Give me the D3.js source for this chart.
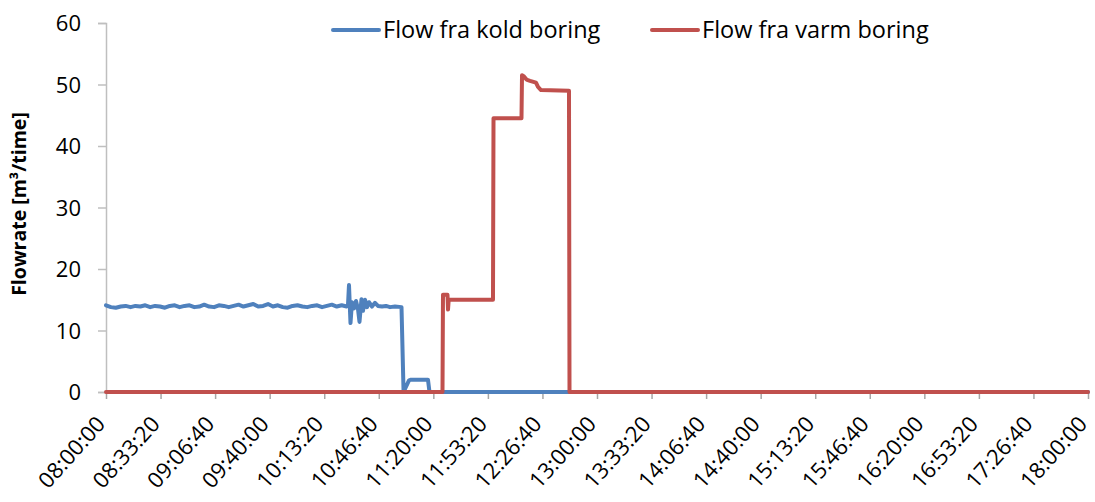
<!DOCTYPE html>
<html>
<head>
<meta charset="utf-8">
<script src="https://cdn.jsdelivr.net/npm/d3@7"></script>
<style>
  body { margin: 0; background: #fff; }
  svg text { font-family: "Open Sans", "Noto Sans", sans-serif; fill: #000; }
</style>
</head>
<body>
<svg id="chart" width="1095" height="502"></svg>
<script>
// series names
const seriesNames = ["Flow fra kold boring", "Flow fra varm boring"];

// cold well flow [time, m3/time]
const koldTimes = [
  "08:00:00","08:03:00","08:06:00","08:09:00","08:12:00","08:15:00","08:18:00","08:21:00","08:24:00","08:27:00",
  "08:30:00","08:33:00","08:36:00","08:39:00","08:42:00","08:45:00","08:48:00","08:51:00","08:54:00","08:57:00",
  "09:00:00","09:03:00","09:06:00","09:09:00","09:12:00","09:15:00","09:18:00","09:21:00","09:24:00","09:27:00",
  "09:30:00","09:33:00","09:36:00","09:39:00","09:42:00","09:45:00","09:48:00","09:51:00","09:54:00","09:57:00",
  "10:00:00","10:03:00","10:06:00","10:09:00","10:12:00","10:15:00","10:18:00","10:21:00","10:24:00","10:27:00",
  "10:27:52","10:28:28","10:29:23","10:30:18","10:31:32","10:32:45","10:33:58","10:34:53","10:36:06","10:37:01",
  "10:38:15","10:39:28","10:40:41","10:42:31","10:44:21","10:46:11","10:48:38","10:51:05","10:53:32","10:56:35",
  "11:00:33","11:01:47","11:02:41","11:05:08","11:06:21","11:16:44","11:17:39","18:00:00"
];
const koldValues = [
  14.1,13.8,13.7,13.9,14.0,13.8,14.0,13.9,14.1,13.8,
  14.0,13.9,13.7,14.0,14.1,13.8,14.0,14.1,13.8,13.9,
  14.2,13.9,13.8,14.1,14.0,13.8,14.0,14.2,13.9,14.1,
  14.3,13.9,14.0,14.3,13.9,14.1,13.8,13.7,14.0,14.1,
  13.9,13.8,14.0,14.1,13.8,14.0,14.2,13.9,14.1,13.9,
  14.2,17.4,11.2,14.6,13.6,14.8,13.5,11.4,15.1,13.2,
  15.0,13.8,14.6,13.9,14.5,14.0,13.9,14.0,13.8,13.9,
  13.8,0.3,0.5,1.9,2.0,2.0,0,0
];

// warm well flow [time, m3/time]
const varmTimes = [
  "08:00:00","11:25:36","11:25:54","11:28:39","11:28:58","11:29:23","11:56:27","11:56:46","12:13:52","12:14:11",
  "12:15:24","12:16:56","12:19:04","12:22:44","12:23:57","12:25:47","12:42:53","12:43:12","18:00:00"
];
const varmValues = [
  0,0,15.8,15.8,13.4,15.0,15.0,44.5,44.5,51.5,
  51.3,50.8,50.6,50.3,49.6,49.1,49.0,0,0
];

const yTicks = [0, 10, 20, 30, 40, 50, 60];
const xTickSeconds = d3.range(0, 36001, 2000);

const colors = ["#4f81bd", "#c0504d"];

const svg = d3.select("#chart");
const margin = { left: 106, right: 1088, top: 23, bottom: 392 };

const parseTime = s => {
  const [h, m, sec] = s.split(":").map(Number);
  return (h - 8) * 3600 + m * 60 + sec;
};
const fmt = s => {
  const t = s + 8 * 3600;
  const pad = n => String(n).padStart(2, "0");
  return `${pad(Math.floor(t / 3600))}:${pad(Math.floor(t % 3600 / 60))}:${pad(t % 60)}`;
};

const x = d3.scaleLinear().domain([0, 36000]).range([margin.left, margin.right]);
const y = d3.scaleLinear().domain([0, 60]).range([margin.bottom, margin.top]);

// y axis
const yAxis = svg.append("g")
  .attr("transform", `translate(${margin.left},0)`)
  .call(d3.axisLeft(y).tickValues(yTicks).tickSize(8).tickPadding(17));
yAxis.select(".domain").attr("stroke", "#bfbfbf").attr("stroke-width", 1.5);
yAxis.selectAll(".tick line").attr("stroke", "#bfbfbf").attr("stroke-width", 1.5);
yAxis.selectAll("text").style("font-size", "22px").attr("dy", "0.35em");

// x axis
const xAxis = svg.append("g")
  .attr("transform", `translate(0,${margin.bottom})`)
  .call(d3.axisBottom(x).tickValues(xTickSeconds).tickFormat(fmt).tickSize(7).tickSizeOuter(0));
xAxis.select(".domain").attr("stroke", "#bfbfbf").attr("stroke-width", 1.5);
xAxis.selectAll(".tick line").attr("stroke", "#a6a6a6").attr("stroke-width", 1.5);
xAxis.selectAll("text")
  .style("font-size", "22px")
  .attr("text-anchor", "end")
  .attr("dy", null)
  .attr("y", 0)
  .attr("transform", "translate(0,33) rotate(-48)");

// y title
svg.append("text")
  .attr("transform", "translate(26,204) rotate(-90)")
  .attr("text-anchor", "middle")
  .style("font-size", "19.5px")
  .style("font-weight", "bold")
  .text("Flowrate [m³/time]");

const line = d3.line()
  .x(d => x(d[0]))
  .y(d => y(d[1]));

const series = [
  koldTimes.map((t, i) => [parseTime(t), koldValues[i]]),
  varmTimes.map((t, i) => [parseTime(t), varmValues[i]])
];

svg.append("g").selectAll("path")
  .data(series)
  .join("path")
  .attr("fill", "none")
  .attr("stroke", (d, i) => colors[i])
  .attr("stroke-width", 4)
  .attr("stroke-linejoin", "round")
  .attr("stroke-linecap", "round")
  .attr("d", line);

// legend
const legendX = [333, 652];
const legend = svg.append("g").selectAll("g")
  .data(seriesNames)
  .join("g")
  .attr("transform", (d, i) => `translate(${legendX[i]},30)`);
legend.append("line")
  .attr("x1", 0).attr("x2", 46)
  .attr("stroke", (d, i) => colors[i])
  .attr("stroke-width", 4)
  .attr("stroke-linecap", "round");
legend.append("text")
  .attr("x", 50)
  .attr("dy", "0.35em")
  .style("font-size", "23.5px")
  .text(d => d);
</script>
</body>
</html>
